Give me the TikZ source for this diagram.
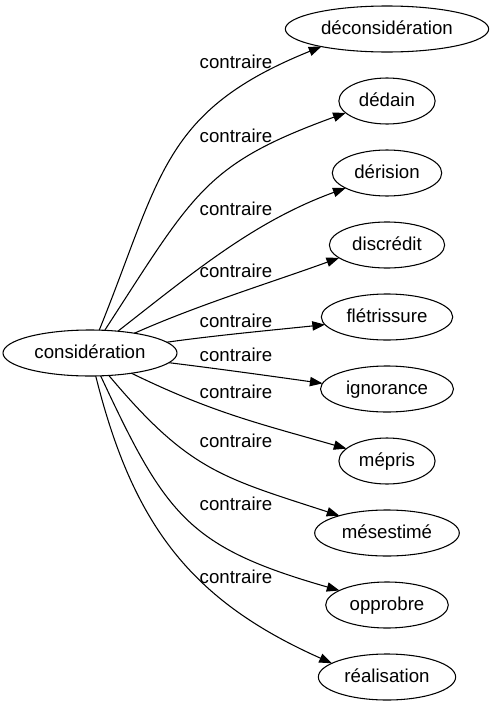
\documentclass[tikz,border=0pt]{standalone}
\usepackage{fontspec}
\setmainfont{Liberation Sans}
\usetikzlibrary{shapes.geometric}
\usetikzlibrary{positioning}
\usetikzlibrary{arrows.meta}
\tikzset{
    wordnode/.style = {ellipse, line width=0.8pt, draw=black, outer sep=0pt, inner xsep=4.5pt, minimum height=34.5pt, text height=10.5pt, text depth=2.5pt, font=\fontsize{14}{16}\selectfont, text=black},
    contnode/.style = {anchor=base, inner sep=0pt, font=\fontsize{14}{16}\selectfont, text=black},
    edgec/.style = {-{Triangle[length=9.5pt,width=7pt]}, line width=0.8pt, black}
}

\begin{document}
\begin{tikzpicture}[x=0.75pt, y=0.75pt]
  \useasboundingbox (0,0) rectangle (491,-707);
  % nodes
  \node[wordnode] (consid) at (90,-353) {considération};
  \node[wordnode] (decons) at (387,-29) {déconsidération};
  \node[wordnode, below=19.5pt of decons] (dedain) {dédain};
  \node[wordnode, below=19.5pt of dedain] (deris) {dérision};
  \node[wordnode, below=19.5pt of deris] (discr) {discrédit};
  \node[wordnode, below=19.5pt of discr] (fletr) {flétrissure};
  \node[wordnode, below=19.5pt of fletr] (ignor) {ignorance};
  \node[wordnode, below=19.5pt of ignor] (mepris) {mépris};
  \node[wordnode, below=19.5pt of mepris] (meses) {mésestimé};
  \node[wordnode, below=19.5pt of meses] (oppro) {opprobre};
  \node[wordnode, below=19.5pt of oppro] (realis) {réalisation};
  % edges
  \draw[edgec] (consid.68) .. controls +(68:166) and +(202:172) .. (decons.195);
  \draw[edgec] (consid.57) .. controls +(57:165) and +(200:150) .. (dedain.196);
  \draw[edgec] (consid.38) .. controls +(38:97) and +(200:97) .. (deris.200);
  \draw[edgec] (consid.24) .. controls +(24:70) and +(200:70) .. (discr.195);
  \draw[edgec] (consid.8) .. controls +(8:50) and +(186:50) .. (fletr.187);
  \draw[edgec] (consid.353) .. controls +(353:50) and +(172:50) .. (ignor.175);
  \draw[edgec] (consid.334) .. controls +(334:90) and +(164:90) .. (mepris.163);
  \draw[edgec] (consid.310) .. controls +(310:124) and +(162:124) .. (meses.160);
  \draw[edgec] (consid.295) .. controls +(295:155) and +(164:157) .. (oppro.163);
  \draw[edgec] (consid.284) .. controls +(284:154) and +(156:154) .. (realis.166);
  % labels
  \node[contnode] (lbl1) at (236,-68) {contraire};
  \node[contnode] (lbl2) at (236,-142) {contraire};
  \node[contnode] (lbl3) at (236,-215) {contraire};
  \node[contnode] (lbl4) at (236,-277) {contraire};
  \node[contnode] (lbl5) at (236,-327) {contraire};
  \node[contnode] (lbl6) at (236,-361) {contraire};
  \node[contnode] (lbl7) at (236,-398) {contraire};
  \node[contnode] (lbl8) at (236,-447) {contraire};
  \node[contnode] (lbl9) at (236,-510) {contraire};
  \node[contnode] (lbl10) at (236,-583) {contraire};
\end{tikzpicture}
\end{document}
